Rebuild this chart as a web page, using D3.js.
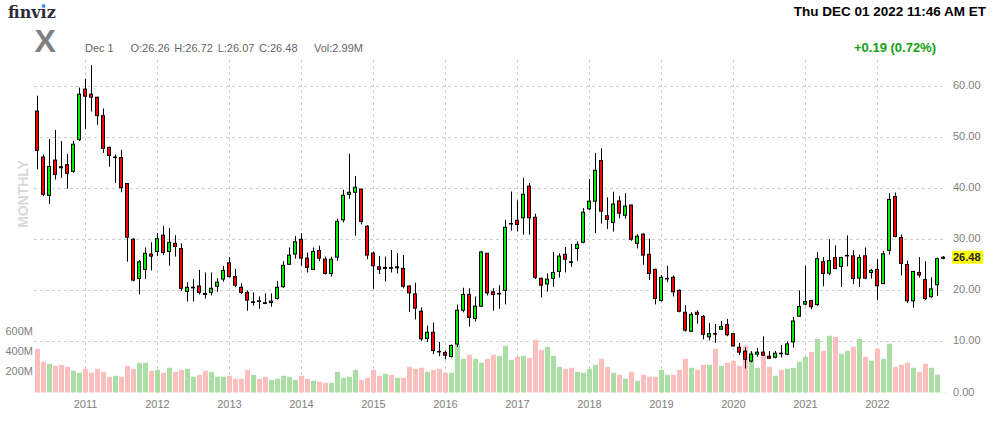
<!DOCTYPE html>
<html><head><meta charset="utf-8">
<script src="https://cdn.jsdelivr.net/npm/d3@7"></script>
<style>body{margin:0;background:#fff}svg{display:block}</style>
</head><body>
<svg id="c" width="994" height="422"></svg>
<script>
const months = [
"2010-05","2010-06","2010-07","2010-08","2010-09","2010-10","2010-11","2010-12",
"2011-01","2011-02","2011-03","2011-04","2011-05","2011-06","2011-07","2011-08","2011-09","2011-10","2011-11","2011-12",
"2012-01","2012-02","2012-03","2012-04","2012-05","2012-06","2012-07","2012-08","2012-09","2012-10","2012-11","2012-12",
"2013-01","2013-02","2013-03","2013-04","2013-05","2013-06","2013-07","2013-08","2013-09","2013-10","2013-11","2013-12",
"2014-01","2014-02","2014-03","2014-04","2014-05","2014-06","2014-07","2014-08","2014-09","2014-10","2014-11","2014-12",
"2015-01","2015-02","2015-03","2015-04","2015-05","2015-06","2015-07","2015-08","2015-09","2015-10","2015-11","2015-12",
"2016-01","2016-02","2016-03","2016-04","2016-05","2016-06","2016-07","2016-08","2016-09","2016-10","2016-11","2016-12",
"2017-01","2017-02","2017-03","2017-04","2017-05","2017-06","2017-07","2017-08","2017-09","2017-10","2017-11","2017-12",
"2018-01","2018-02","2018-03","2018-04","2018-05","2018-06","2018-07","2018-08","2018-09","2018-10","2018-11","2018-12",
"2019-01","2019-02","2019-03","2019-04","2019-05","2019-06","2019-07","2019-08","2019-09","2019-10","2019-11","2019-12",
"2020-01","2020-02","2020-03","2020-04","2020-05","2020-06","2020-07","2020-08","2020-09","2020-10","2020-11","2020-12",
"2021-01","2021-02","2021-03","2021-04","2021-05","2021-06","2021-07","2021-08","2021-09","2021-10","2021-11","2021-12",
"2022-01","2022-02","2022-03","2022-04","2022-05","2022-06","2022-07","2022-08","2022-09","2022-10","2022-11","2022-12"];

const open = [55.1,46.1,38.6,45.5,44.2,44.6,43.3,49.5,
59.4,58.4,57.8,54.2,48.0,46.0,46.0,40.9,30.0,22.3,24.1,27.1,
27.6,30.8,27.6,29.2,28.2,19.8,20.55,20.85,19.4,19.6,20.8,22.2,
25.4,22.7,20.6,19.6,17.65,17.95,17.6,17.6,18.4,20.7,25.1,27.1,
30.0,26.3,24.1,27.8,26.1,23.3,26.5,33.8,38.8,39.2,39.8,32.55,
27.3,24.6,24.3,24.45,24.4,24.3,20.85,19.3,15.9,10.6,11.8,8.05,
7.8,7.05,9.5,16.1,19.2,14.5,16.9,27.25,19.7,19.3,20.0,33.0,
33.7,34.2,40.4,34.3,22.35,21.25,22.35,23.7,27.05,25.6,28.2,29.4,
35.95,37.45,45.4,34.6,33.3,37.5,34.7,36.7,29.2,31.0,27.05,24.1,
18.0,22.25,22.55,20.0,15.7,12.0,15.7,14.9,10.9,11.55,12.4,13.3,
11.5,8.85,8.1,6.15,7.5,7.9,7.1,6.9,7.7,7.5,9.9,14.95,
17.3,18.0,17.2,25.6,23.35,26.4,24.65,26.75,26.75,22.4,26.75,23.5,
24.1,21.3,27.85,38.35,30.35,25.05,17.95,23.5,22.1,18.75,21.1,26.26];

const high = [58.1,46.6,49.6,51.4,49.2,46.7,49.3,59.7,
61.4,64.1,57.9,55.6,48.1,46.6,47.5,41.0,30.2,25.9,28.4,29.4,
31.2,32.6,32.2,30.8,29.2,21.6,22.2,24.0,23.5,23.5,22.4,24.8,
26.5,24.2,21.4,20.0,19.6,18.8,19.4,19.4,21.8,25.7,28.4,30.65,
31.2,27.4,28.4,28.75,26.6,26.6,34.0,39.7,46.7,42.4,39.9,32.75,
27.6,26.7,26.6,27.9,27.3,26.9,21.0,21.5,16.7,13.1,13.7,9.9,
8.2,9.4,17.2,20.5,20.4,18.8,27.7,27.3,20.4,21.0,33.8,39.35,
37.6,42.0,41.0,35.0,22.5,23.3,27.5,27.25,28.5,29.1,29.6,36.1,
41.8,46.9,47.8,38.2,39.3,38.4,39.0,36.8,31.0,31.2,30.1,24.25,
23.0,24.8,22.9,20.2,17.1,15.7,16.1,15.2,13.6,13.4,14.0,14.4,
11.55,9.7,8.85,8.1,8.7,11.0,8.1,8.15,9.3,10.0,14.8,20.0,
24.8,18.1,27.5,26.5,30.0,28.8,26.55,30.75,27.85,27.0,28.4,24.2,
26.1,27.7,39.0,39.15,30.95,25.85,23.8,26.5,25.7,22.55,26.4,26.72];

const low = [43.7,38.4,36.9,41.7,42.0,39.9,43.0,49.2,
51.6,55.0,52.4,46.9,44.2,41.0,39.2,25.6,21.8,19.2,22.2,23.9,
26.7,26.9,24.8,26.6,19.9,17.8,17.8,19.2,18.4,19.0,19.7,21.7,
22.5,20.6,19.3,16.0,17.0,16.4,17.3,16.8,18.2,20.5,25.0,26.2,
24.8,23.5,24.0,25.7,23.1,22.7,25.8,33.3,37.9,30.7,32.9,26.1,
20.3,23.2,21.7,23.5,23.3,20.4,15.75,14.3,10.1,9.9,7.5,7.1,
6.5,6.85,8.9,15.7,12.9,13.9,16.8,19.0,16.0,16.4,17.25,31.7,
31.5,30.9,30.9,22.2,18.6,19.75,20.7,22.5,23.5,24.6,25.8,29.2,
35.75,31.2,33.1,32.0,31.5,34.1,34.05,29.7,28.2,25.0,22.0,17.25,
17.8,21.6,18.8,15.7,11.9,11.9,13.5,10.4,10.2,9.7,12.3,11.0,
9.05,7.3,4.7,5.9,7.0,7.2,6.65,6.7,6.85,7.3,8.8,14.8,
17.05,16.3,17.0,20.8,22.95,24.2,20.65,24.7,21.2,20.65,22.2,22.3,
18.1,21.25,27.0,30.35,22.9,17.55,16.6,22.5,18.1,18.55,18.9,26.07];

const close = [47.4,38.8,44.25,42.7,44.0,42.9,48.6,58.4,
58.0,57.8,54.2,47.8,46.4,46.1,40.1,30.4,22.0,25.6,27.25,26.7,
30.1,27.4,29.4,28.6,20.4,20.6,20.6,19.6,19.2,20.4,21.6,23.9,
22.7,21.0,19.6,18.1,17.75,17.85,17.45,17.9,20.6,24.9,26.9,29.5,
26.3,24.5,27.6,26.3,23.3,26.1,33.5,38.6,39.2,40.2,33.5,26.9,
24.8,24.1,24.5,24.35,24.6,20.8,19.5,16.5,10.5,11.8,8.2,7.95,
7.3,9.2,16.1,19.2,14.7,16.9,27.5,19.5,19.2,19.4,32.35,33.1,
32.9,38.8,34.2,22.55,21.0,22.2,23.5,26.7,26.1,25.5,29.0,35.3,
37.45,43.5,35.5,33.9,36.9,35.1,36.5,30.0,30.6,26.9,23.3,18.4,
22.55,22.35,19.7,15.9,12.2,15.3,15.3,11.4,11.5,11.45,12.9,11.3,
9.1,7.9,6.5,7.5,7.9,7.3,6.7,7.7,7.6,9.5,14.0,16.85,
17.8,16.8,26.2,23.3,25.8,24.25,26.4,26.85,22.3,26.4,22.4,23.9,
20.9,27.15,37.8,30.55,25.25,17.95,23.7,23.0,18.4,20.3,26.2,26.48];

// monthly volume, millions of shares
const volume = [437,307,287,267,277,257,217,197,
237,197,237,207,157,167,157,267,237,297,297,217,
227,197,247,207,227,237,157,177,217,207,157,157,
167,137,137,227,177,137,157,127,137,167,157,127,
167,137,117,107,97,97,207,147,157,227,127,147,
227,167,187,177,147,147,257,237,247,207,227,237,
197,197,485,337,377,337,297,337,377,367,467,327,
357,367,347,527,427,457,367,257,237,247,207,197,
237,277,337,257,197,177,137,207,117,177,157,157,
227,177,177,227,337,247,227,277,277,437,267,297,
317,267,467,400,247,377,257,167,227,237,247,307,
357,407,537,417,567,557,387,417,457,537,357,317,
437,337,487,257,277,297,247,207,287,247,177,3];

const priceTicks = [0,10,20,30,40,50,60];
const volTicks = [200,400,600];
const yearTicks = ["2011","2012","2013","2014","2015","2016","2017","2018","2019","2020","2021","2022"];
const lastPrice = 26.48;

const svg = d3.select("#c");
const FONT = "'Liberation Sans', Arial, Helvetica, sans-serif";

const x = d3.scalePoint().domain(months).range([37, 37 + (months.length - 1) * 6]);
const y = d3.scaleLinear().domain([0, 60]).range([392.5, 86]);
const vy = d3.scaleLinear().domain([0, 600]).range([392.5, 332.5]);

const plotL = 34, plotR = 946, plotT = 60, plotB = 394;

// grid
const grid = svg.append("g").attr("stroke", "#cfcfcf").attr("stroke-dasharray", "3,3").attr("stroke-width", 1);
priceTicks.filter(v => v > 0).forEach(v => {
  const yy = Math.floor(y(v)) + 0.5;
  grid.append("line").attr("x1", plotL).attr("x2", plotR).attr("y1", yy).attr("y2", yy);
});
yearTicks.forEach(yr => {
  const xx = x(yr + "-01") + 0.5;
  grid.append("line").attr("x1", xx).attr("x2", xx).attr("y1", plotT).attr("y2", plotB);
});

const data = months.map((m, i) => ({m, o: open[i], h: high[i], l: low[i], c: close[i], v: volume[i]}));

// volume bars
svg.append("g").selectAll("rect").data(data).join("rect")
  .attr("x", d => x(d.m) - 2)
  .attr("width", 5)
  .attr("y", d => vy(d.v))
  .attr("height", d => vy(0) - vy(d.v))
  .attr("fill", d => d.c >= d.o ? "#aadea5" : "#fdbebe");

// wicks
svg.append("g").attr("stroke", "#000").attr("stroke-width", 1).selectAll("line").data(data).join("line")
  .attr("x1", d => x(d.m) + 0.5).attr("x2", d => x(d.m) + 0.5)
  .attr("y1", d => y(d.h)).attr("y2", d => y(d.l));

// bodies
svg.append("g").attr("stroke", "#000").attr("stroke-width", 1).selectAll("rect").data(data).join("rect")
  .attr("x", d => x(d.m) - 1.5)
  .attr("width", 3)
  .attr("y", d => y(Math.max(d.o, d.c)))
  .attr("height", d => Math.max(0.6, Math.abs(y(d.o) - y(d.c))))
  .attr("fill", d => d.c >= d.o ? "#00ee00" : "#ff0000");

// price axis labels
const tg = svg.append("g").attr("font-family", FONT).attr("font-size", 11).attr("fill", "#808080");
priceTicks.forEach(v => {
  tg.append("text").attr("x", 953).attr("y", y(v) + 3).text(v.toFixed(2));
});
volTicks.forEach(v => {
  tg.append("text").attr("x", 33).attr("y", vy(v) + 2.5).attr("text-anchor", "end").text(v + "M");
});
yearTicks.forEach(yr => {
  tg.append("text").attr("x", x(yr + "-01") + 0.5).attr("y", 408).attr("text-anchor", "middle").text(yr);
});

// last price marker
const ly = y(lastPrice);
svg.append("rect").attr("x", 952).attr("y", ly - 6.5).attr("width", 31).attr("height", 13).attr("fill", "#ffff00");
svg.append("text").attr("x", 953).attr("y", ly + 4).attr("font-family", FONT).attr("font-size", 11)
  .attr("font-weight", "bold").attr("fill", "#222").text(lastPrice.toFixed(2));

// MONTHLY
svg.append("text").attr("transform", "translate(28,194) rotate(-90)").attr("text-anchor", "middle")
  .attr("font-family", FONT).attr("font-size", 14).attr("font-weight", "bold").attr("fill", "#d9d9d9").text("MONTHLY");

// header
const logo = svg.append("text").attr("x", 8).attr("y", 17.5).attr("font-family", "'DejaVu Serif', serif")
  .attr("font-size", 16).attr("font-weight", "bold").attr("fill", "#2b2d3a");
logo.append("tspan").text("finv");
logo.append("tspan").text("\u0131");
logo.append("tspan").text("z");
const w1 = logo.node().getSubStringLength(0, 4);
const w2 = logo.node().getSubStringLength(4, 1);
svg.append("circle").attr("cx", 8 + w1 + w2 / 2).attr("cy", 6).attr("r", 2).attr("fill", "#4a90e2");

svg.append("text").attr("x", 34.5).attr("y", 51.5).attr("font-family", FONT).attr("font-size", 32)
  .attr("font-weight", "bold").attr("fill", "#808080").text("X");

const hg = svg.append("g").attr("font-family", FONT).attr("font-size", 11).attr("fill", "#666");
hg.append("text").attr("x", 85).attr("y", 52).text("Dec 1");
hg.append("text").attr("x", 130.5).attr("y", 52).text("O:" + open[open.length - 1].toFixed(2));
hg.append("text").attr("x", 174.3).attr("y", 52).text("H:" + high[high.length - 1].toFixed(2));
hg.append("text").attr("x", 217.7).attr("y", 52).text("L:" + low[low.length - 1].toFixed(2));
hg.append("text").attr("x", 259).attr("y", 52).text("C:" + close[close.length - 1].toFixed(2));
hg.append("text").attr("x", 314).attr("y", 52).text("Vol:2.99M");

svg.append("text").attr("x", 986).attr("y", 15.5).attr("text-anchor", "end").attr("font-family", FONT)
  .attr("font-size", 13.5).attr("font-weight", "bold").attr("fill", "#000").text("Thu DEC 01 2022 11:46 AM ET");
svg.append("text").attr("x", 936).attr("y", 52).attr("text-anchor", "end").attr("font-family", FONT)
  .attr("font-size", 13).attr("font-weight", "bold").attr("fill", "#13a013").text("+0.19 (0.72%)");
</script>
</body></html>
